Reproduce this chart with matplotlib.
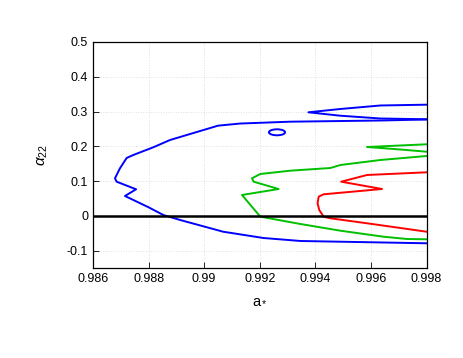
import matplotlib
matplotlib.use("Agg")
import matplotlib.pyplot as plt
from matplotlib.patches import Ellipse

plt.rcParams["font.family"] = ["Liberation Sans", "DejaVu Sans"]
plt.rcParams["mathtext.fontset"] = "custom"
plt.rcParams["mathtext.rm"] = "Liberation Sans"
plt.rcParams["mathtext.it"] = "Liberation Sans:italic"

# contornos
azul_x = [0.998, 0.99634, 0.9931, 0.9913, 0.9905, 0.98877, 0.98817, 0.98745, 0.98721,
          0.98697, 0.98679, 0.98685, 0.98755, 0.98715, 0.98798, 0.98853, 0.98914,
          0.99068, 0.99213, 0.99346, 0.998]
azul_y = [0.2771, 0.2742, 0.2708, 0.2655, 0.2594, 0.2181, 0.1972, 0.175, 0.1664,
          0.1368, 0.108, 0.0982, 0.0764, 0.0571, 0.0254, 0.0024, -0.012,
          -0.0456, -0.0637, -0.0723, -0.0789]

azul_dedo_x = [0.998, 0.99634, 0.9949, 0.99375, 0.9949, 0.99634, 0.998]
azul_dedo_y = [0.3197, 0.3174, 0.3073, 0.2978, 0.288, 0.28, 0.2777]

# pequeña isla azul (centro, ancho, alto)
isla_centro = (0.99262, 0.2403)
isla_ancho = 0.00058
isla_alto = 0.0172

verde_x = [0.998, 0.99634, 0.9949, 0.99454, 0.9931, 0.99202, 0.99172, 0.99178, 0.99268,
           0.99136, 0.99202, 0.99346, 0.9949, 0.99645, 0.9973, 0.998]
verde_y = [0.1721, 0.1606, 0.1462, 0.1376, 0.1299, 0.1204, 0.108, 0.0982, 0.0772,
           0.06, -0.0024, -0.0234, -0.0427, -0.06, -0.0666, -0.0674]

verde_dedo_x = [0.998, 0.99586, 0.99706, 0.998]
verde_dedo_y = [0.2058, 0.198, 0.1908, 0.1845]

rojo_x = [0.998, 0.99586, 0.99493, 0.9964, 0.9943, 0.99412, 0.99408, 0.99414, 0.9943,
          0.99454, 0.99586, 0.998]
rojo_y = [0.1252, 0.1175, 0.0982, 0.0772, 0.062, 0.0551, 0.0361, 0.0168, -0.0024,
          -0.007, -0.0214, -0.0456]

xticks = [0.986, 0.988, 0.99, 0.992, 0.994, 0.996, 0.998]
xtick_labels = ["0.986", "0.988", "0.99", "0.992", "0.994", "0.996", "0.998"]
yticks = [-0.1, 0, 0.1, 0.2, 0.3, 0.4, 0.5]
ytick_labels = ["-0.1", "0", "0.1", "0.2", "0.3", "0.4", "0.5"]

fig = plt.figure(figsize=(4.63, 3.58), dpi=100)
ax = fig.add_axes([0.2009, 0.2514, 0.7203, 0.6313])

azul = "#0000ff"
verde = "#00c000"
rojo = "#ff0000"
lw = 1.4

ax.plot(azul_x, azul_y, color=azul, lw=lw)
ax.plot(azul_dedo_x, azul_dedo_y, color=azul, lw=lw)
ax.add_patch(Ellipse(isla_centro, isla_ancho, isla_alto, fill=False, edgecolor=azul, lw=lw))
ax.plot(verde_x, verde_y, color=verde, lw=lw)
ax.plot(verde_dedo_x, verde_dedo_y, color=verde, lw=lw)
ax.plot(rojo_x, rojo_y, color=rojo, lw=lw)
ax.axhline(0, color="black", lw=1.8)

ax.set_xlim(0.986, 0.998)
ax.set_ylim(-0.15, 0.5)
ax.set_xticks(xticks)
ax.set_xticklabels(xtick_labels)
ax.set_yticks(yticks)
ax.set_yticklabels(ytick_labels)
ax.tick_params(direction="in", length=4, labelsize=9, colors="black", width=0.6)
ax.grid(True, color="#d5d5d5", linestyle=(0, (1, 2)), lw=0.6)
for s in ax.spines.values():
    s.set_linewidth(0.9)

ax.set_xlabel(r"a$_*$", fontsize=10.5, labelpad=6)
ax.set_ylabel(r"$\alpha_{22}$", fontsize=11, labelpad=12)

fig.savefig("out.png", dpi=100)
